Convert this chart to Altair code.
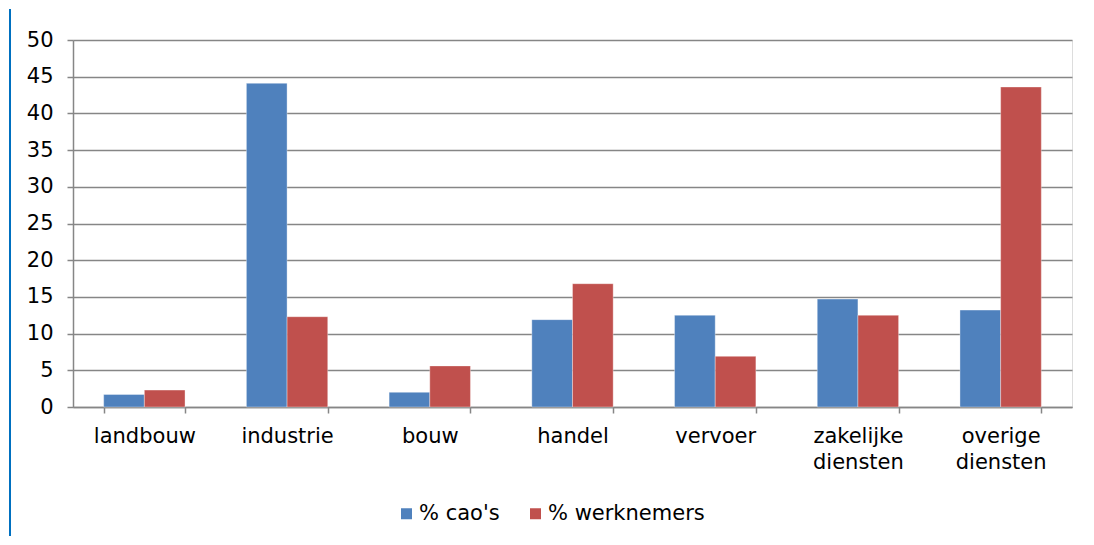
import altair as alt
import pandas as pd

categories = ["landbouw", "industrie", "bouw", "handel", "vervoer",
              "zakelijke diensten", "overige diensten"]
series = ["% cao's", "% werknemers"]
cao = [1.7, 44.1, 2.0, 11.9, 12.5, 14.7, 13.2]
werknemers = [2.3, 12.3, 5.6, 16.8, 6.9, 12.5, 43.6]
y_ticks = [0, 5, 10, 15, 20, 25, 30, 35, 40, 45, 50]

rows = []
for c, a, b in zip(categories, cao, werknemers):
    rows.append({"sector": c, "reeks": series[0], "waarde": a})
    rows.append({"sector": c, "reeks": series[1], "waarde": b})
df = pd.DataFrame(rows)

FONT = "DejaVu Sans"
FS = 21
W, H = 999, 367
PAD = {"left": 65, "top": 32, "right": 14, "bottom": 130}

bars = alt.Chart(df).mark_bar(stroke="white", strokeOpacity=0.35, strokeWidth=1).encode(
    x=alt.X("sector:N", sort=categories, title=None,
            scale=alt.Scale(paddingInner=0.43, paddingOuter=0.215),
            axis=alt.Axis(labelAngle=0, labelFontSize=FS, labelFont=FONT,
                          labelColor="#000000", labelPadding=12,
                          labelExpr="split(datum.label, ' ')",
                          labelLineHeight=26,
                          tickBand="extent", tickSize=6, tickColor="#868686",
                          domainColor="#868686", domainWidth=1.5, tickWidth=1.5)),
    xOffset=alt.XOffset("reeks:N", sort=series,
                        scale=alt.Scale(paddingInner=0, paddingOuter=0)),
    y=alt.Y("waarde:Q", title=None,
            scale=alt.Scale(domain=[0, 50], nice=False),
            axis=alt.Axis(values=y_ticks, labelFontSize=FS, labelFont=FONT,
                          labelColor="#000000", labelPadding=14,
                          tickSize=6, tickColor="#868686", tickWidth=1.5,
                          domainColor="#868686", domainWidth=1.5,
                          grid=True, gridColor="#868686", gridWidth=1.5)),
    color=alt.Color("reeks:N", sort=series, title=None,
                    scale=alt.Scale(domain=series, range=["#4F81BD", "#C0504D"]),
                    legend=alt.Legend(orient="none", direction="horizontal",
                                      legendX=323, legendY=463,
                                      symbolType="square", symbolSize=121,
                                      symbolStrokeWidth=0,
                                      labelFontSize=FS, labelFont=FONT,
                                      labelColor="#000000", labelOffset=2,
                                      columnPadding=25)),
)

# decorative blue frame edge (left) of the original chart box
frame_src = pd.DataFrame({"k": [0]})
frame_left = alt.Chart(frame_src).mark_rect(color="#0070C0", strokeWidth=0).encode(
    x=alt.value(-PAD["left"] + 1), x2=alt.value(-PAD["left"] + 3),
    y=alt.value(-PAD["top"] + 1), y2=alt.value(H + PAD["bottom"] - 1),
)

chart = alt.layer(bars, frame_left).properties(
    width=W, height=H,
    autosize=alt.AutoSizeParams(type="none"),
    padding=PAD,
).configure_view(stroke=None).configure(background="white")

chart.save("out.html", embed_options={"renderer": "svg", "actions": False})
